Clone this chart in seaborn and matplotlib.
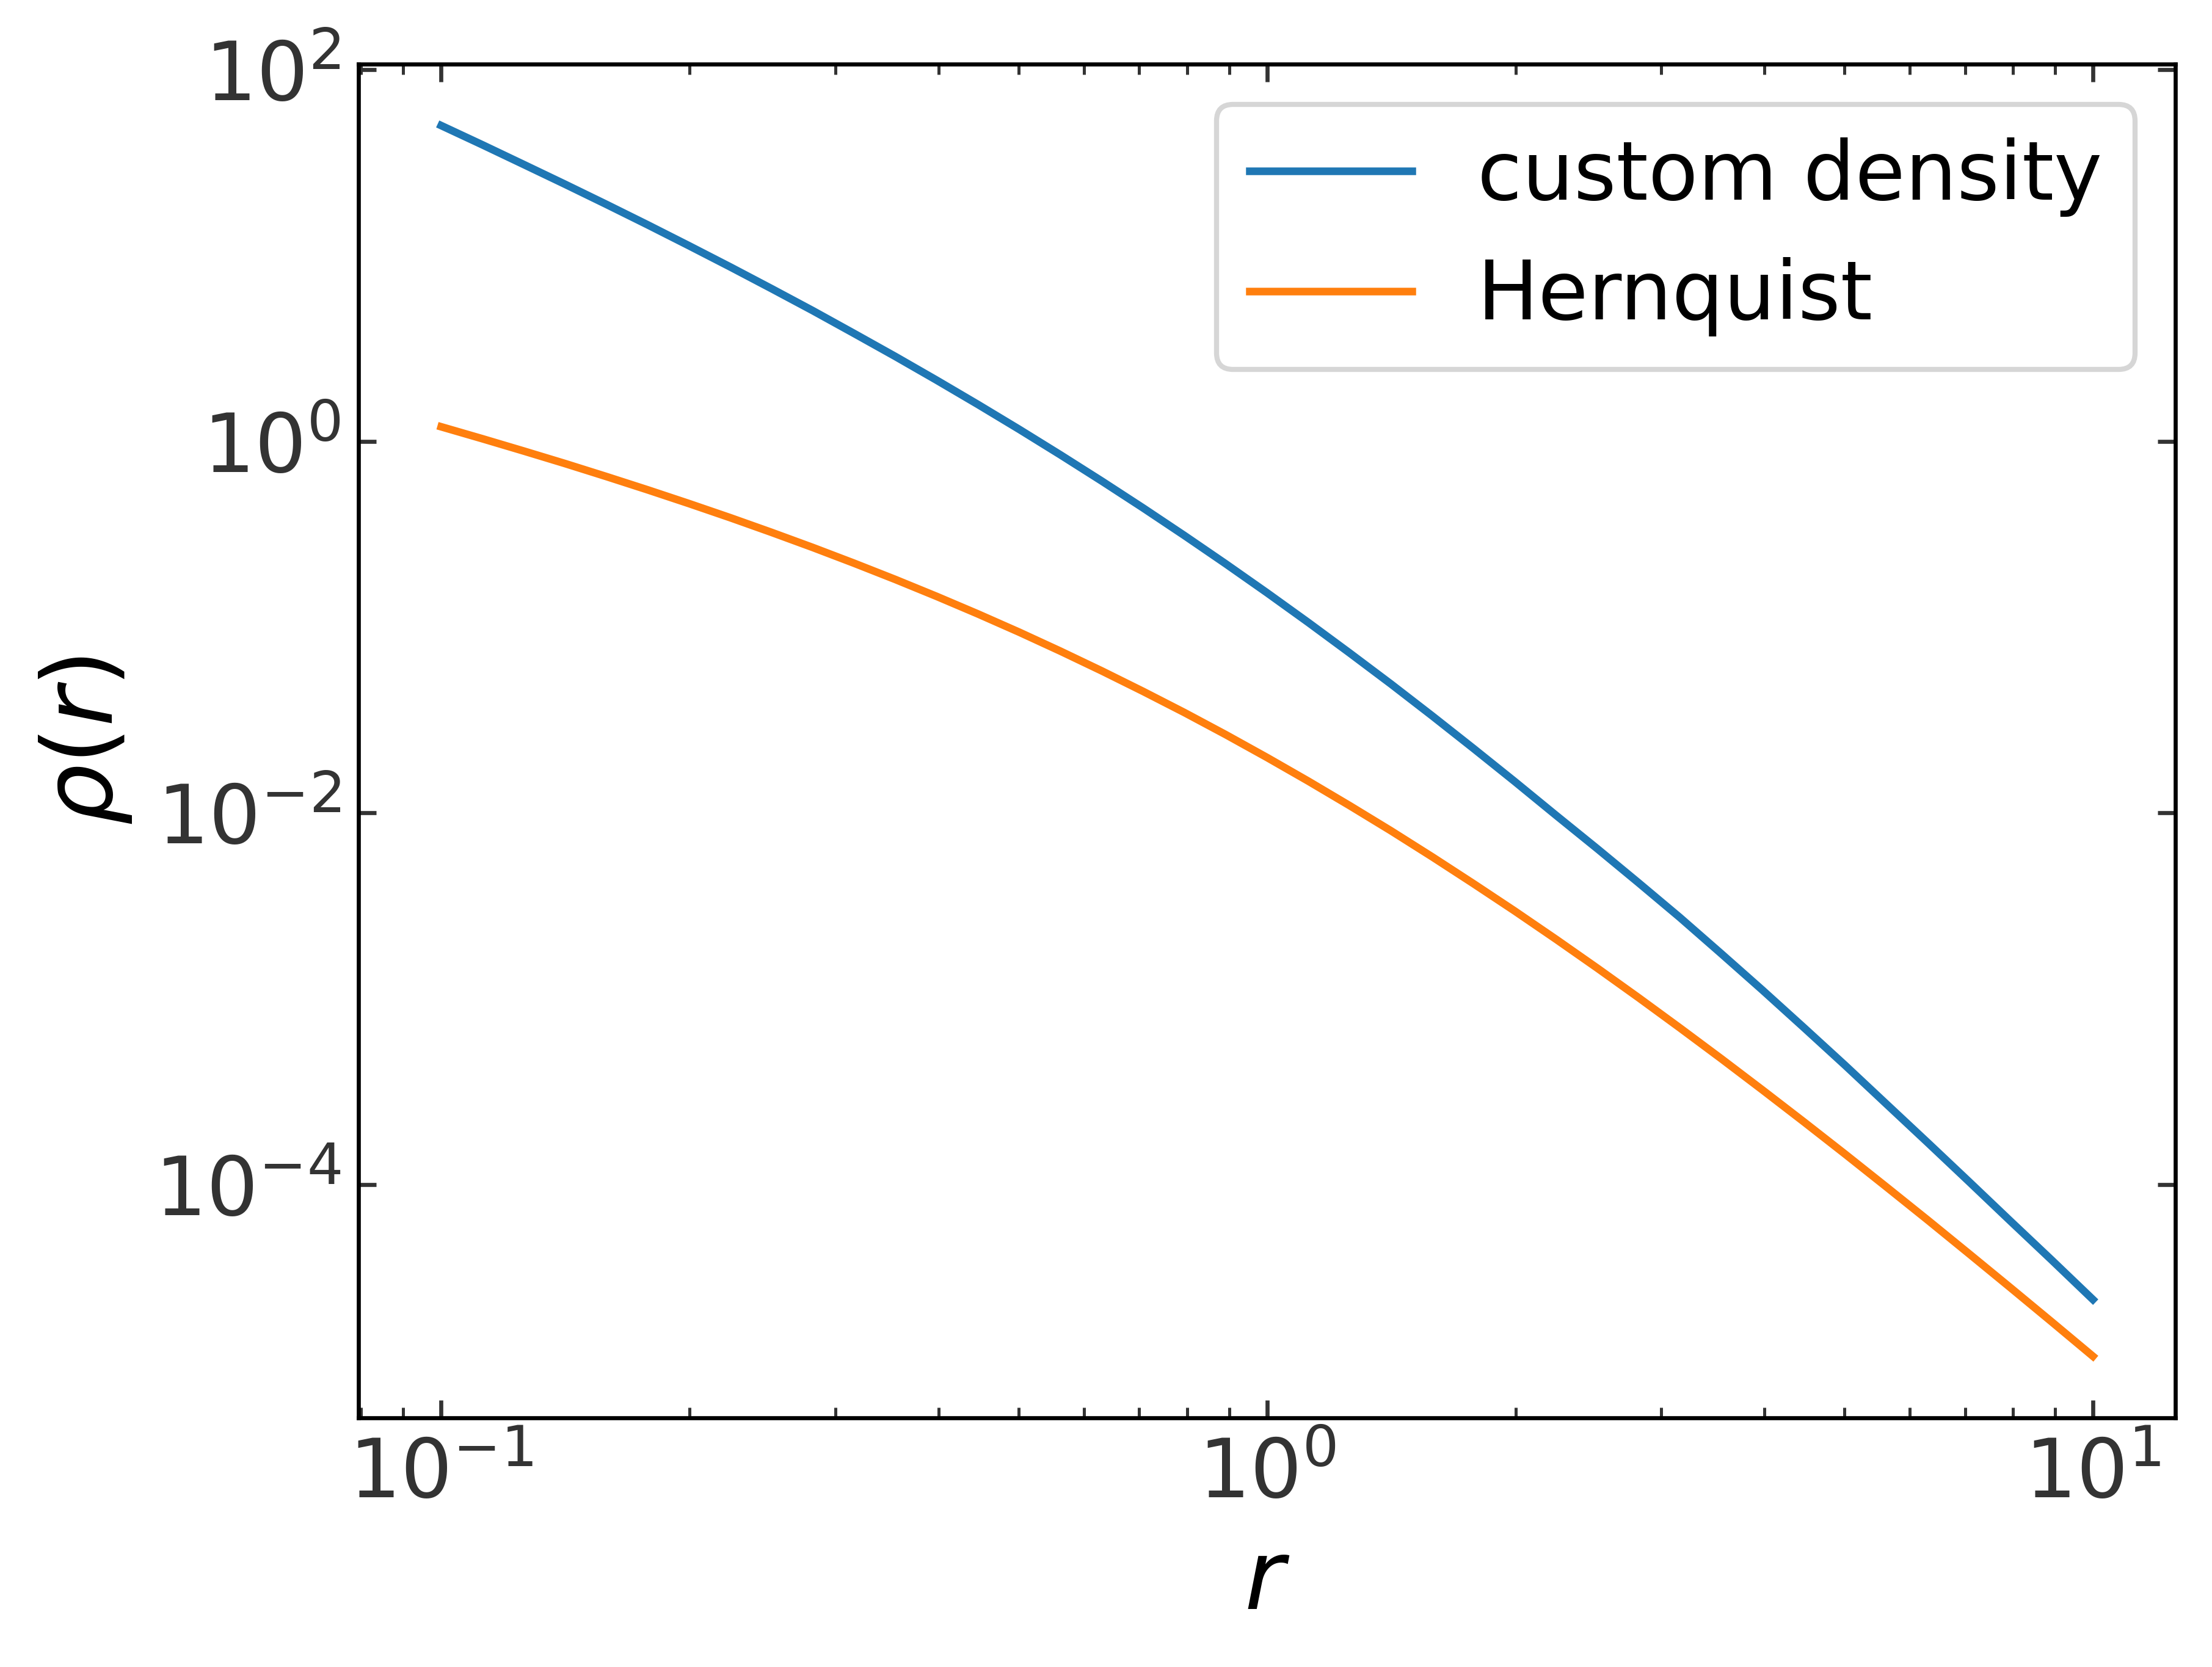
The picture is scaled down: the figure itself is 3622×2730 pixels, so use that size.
import numpy as np
import pandas as pd
import matplotlib
matplotlib.use("Agg")
import matplotlib.pyplot as plt
import matplotlib.ticker as mticker
import seaborn as sns

# radius grid and densities
r_vals = [0.1, 0.1122, 0.1259, 0.1413, 0.1585, 0.1778, 0.1995, 0.2239, 0.2512,
          0.2818, 0.3162, 0.3548, 0.3981, 0.4467, 0.5012, 0.5623, 0.631, 0.7079,
          0.7943, 0.8913, 1.0, 1.122, 1.259, 1.413, 1.585, 1.778, 1.995, 2.239,
          2.512, 2.818, 3.162, 3.548, 3.981, 4.467, 5.012, 5.623, 6.31, 7.079,
          7.943, 8.913, 10.0]
rho_custom = [49.9, 39.3, 30.8, 24.1, 18.8, 14.6, 11.27, 8.66, 6.62, 5.04, 3.80,
              2.856, 2.129, 1.576, 1.158, 0.844, 0.610, 0.4375, 0.3109, 0.2190,
              0.1530, 0.1059, 0.0726, 0.0494, 0.0333, 0.02226, 0.01477, 0.00971,
              0.00642, 0.00421, 0.00274, 0.001752, 0.001114, 7.01e-4, 4.39e-4,
              2.72e-4, 1.685e-4, 1.040e-4, 6.39e-5, 3.94e-5, 2.415e-5]
rho_hernquist = [1.196, 1.031, 0.8855, 0.758, 0.6457, 0.5478, 0.4622, 0.3878,
                 0.3234, 0.2682, 0.2207, 0.1804, 0.1463, 0.1177, 0.0939, 0.0742,
                 0.0581, 0.0451, 0.0347, 0.0264, 0.01989, 0.01484, 0.01096,
                 0.00802, 0.00581, 0.00417, 0.00297, 0.002092, 0.001463,
                 0.001015, 6.98e-4, 4.77e-4, 3.235e-4, 2.181e-4, 1.462e-4,
                 9.74e-5, 6.46e-5, 4.26e-5, 2.80e-5, 1.833e-5, 1.196e-5]
labels = ["custom density", "Hernquist"]
colors = ["#1f77b4", "#ff7f0e"]
y_ticks = [1e-4, 1e-2, 1e0, 1e2]

plt.rcParams.update({
    "xtick.direction": "in",
    "ytick.direction": "in",
    "xtick.top": True,
    "ytick.right": True,
    "xtick.color": "#333333",
    "ytick.color": "#333333",
    "xtick.labelcolor": "#333333",
    "ytick.labelcolor": "#333333",
    "xtick.labelsize": 16,
    "ytick.labelsize": 16,
    "axes.labelsize": 19,
    "legend.fontsize": 16,
    "axes.edgecolor": "black",
})

df = pd.DataFrame({
    "r": r_vals * 2,
    "rho": rho_custom + rho_hernquist,
    "profile": [labels[0]] * len(r_vals) + [labels[1]] * len(r_vals),
})

fig = plt.figure(figsize=(3622 / 600, 2730 / 600), dpi=600)
ax = fig.add_axes([0.1621, 0.1495, 0.8214, 0.8121])

for lab, col in zip(labels, colors):
    sub = df[df["profile"] == lab]
    sns.lineplot(data=sub, x="r", y="rho", color=col, label=lab, ax=ax,
                 linewidth=1.5, sort=True)

ax.set_xscale("log")
ax.set_yscale("log")
ax.set_yticks(y_ticks)
ax.yaxis.set_minor_locator(mticker.NullLocator())
ax.set_xlabel("$r$")
ax.set_ylabel(r"$\rho(r)$")
ax.legend(loc="upper right")

fig.savefig("out.png", dpi=600)
